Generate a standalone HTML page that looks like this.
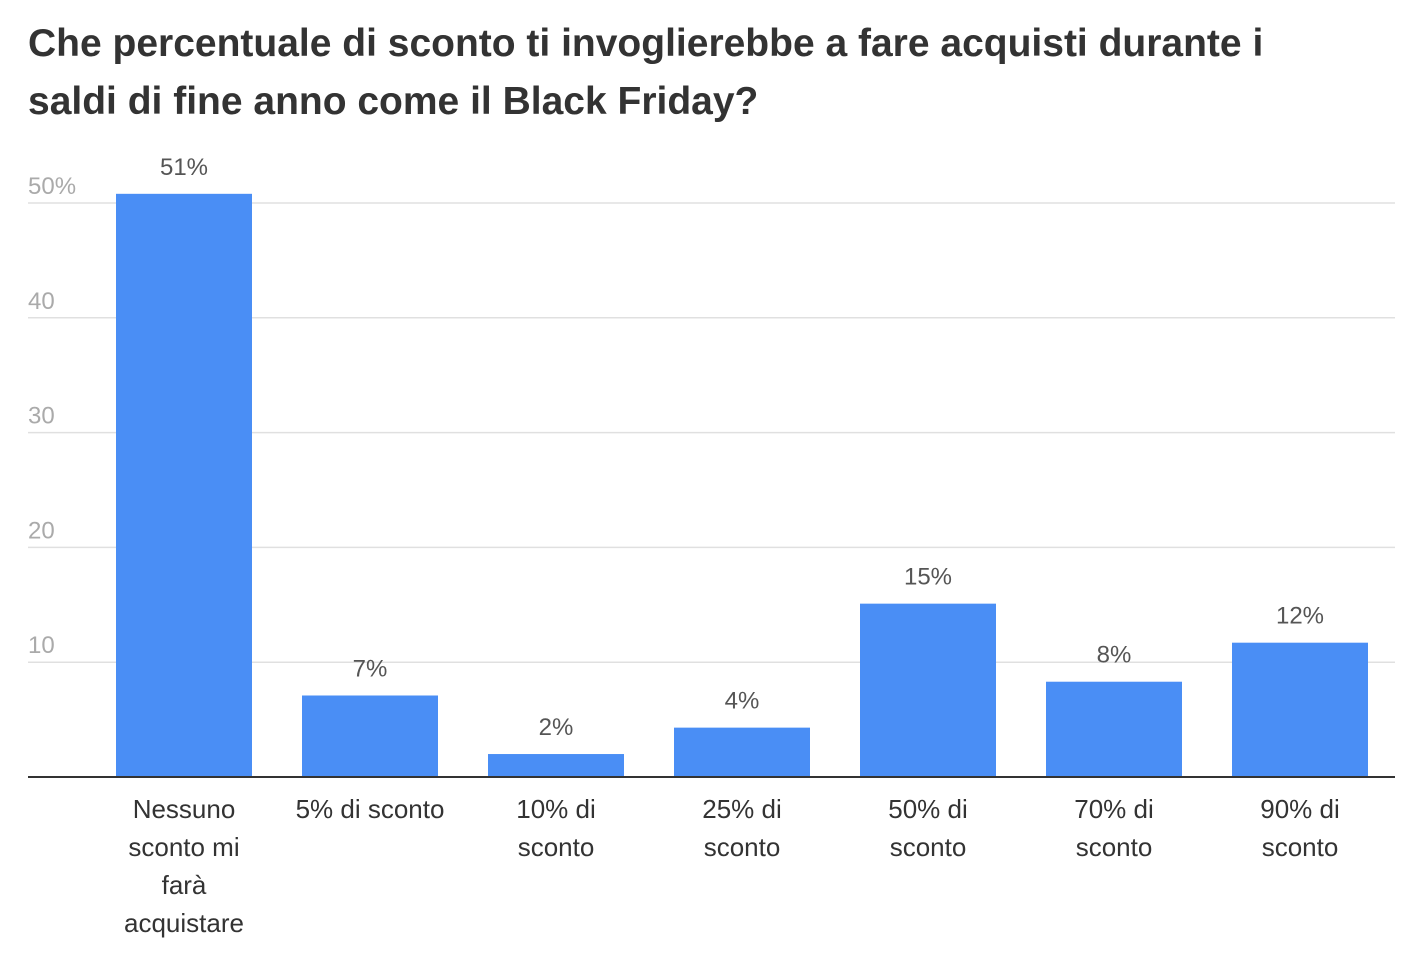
<!DOCTYPE html>
<html><head><meta charset="utf-8"><style>
body{margin:0;background:#fff;font-family:"Liberation Sans",sans-serif;}
svg{display:block}
</style></head><body>
<svg width="1422" height="956" id="c">
<text x="28" y="56" font-size="39" font-weight="bold" fill="#333">Che percentuale di sconto ti invoglierebbe a fare acquisti durante i</text>
<text x="28" y="114" font-size="39" font-weight="bold" fill="#333">saldi di fine anno come il Black Friday?</text>
</svg>
<script>
const categories=[["Nessuno","sconto mi","farà","acquistare"],["5% di sconto"],["10% di","sconto"],["25% di","sconto"],["50% di","sconto"],["70% di","sconto"],["90% di","sconto"]];
const values=[50.8,7.1,2.0,4.3,15.1,8.3,11.7];
const valueLabels=["51%","7%","2%","4%","15%","8%","12%"];
const ticks=[10,20,30,40,50];
const tickLabels=["10","20","30","40","50%"];
const svg=document.getElementById('c');const NS="http://www.w3.org/2000/svg";
const y0=777,pxPer=11.48,left=28,right=1395,x0=116,step=186,bw=136;
const y=v=>y0-v*pxPer;
function mk(t,a,txt){const e=document.createElementNS(NS,t);for(const k in a)e.setAttribute(k,a[k]);if(txt!==undefined)e.textContent=txt;svg.appendChild(e);return e;}
ticks.forEach((t,i)=>{
 const g=mk('line',{x1:left,x2:right,y1:y(t),y2:y(t),stroke:'#e0e0e0','stroke-width':1.5});
 
 
 const l=mk('text',{x:left,y:y(t)-9,'font-size':24,fill:'#aaa'},tickLabels[i]);
 
 
});
values.forEach((v,i)=>{
 const x=x0+i*step;
 const b=mk('rect',{x:x,y:y(v),width:bw,height:y0-y(v),fill:'#4a8ef5'});
 
 
 const t=mk('text',{x:x+bw/2,y:y(v)-19,'font-size':24,fill:'#555','text-anchor':'middle'},valueLabels[i]);
 
 
 categories[i].forEach((s,j)=>{
  const c=mk('text',{x:x+bw/2,y:818+j*38,'font-size':26,fill:'#333','text-anchor':'middle'},s);
  
  
 });
});
const a=mk('line',{x1:left,x2:right,y1:y0,y2:y0,stroke:'#333','stroke-width':2});


</script>
</body></html>
